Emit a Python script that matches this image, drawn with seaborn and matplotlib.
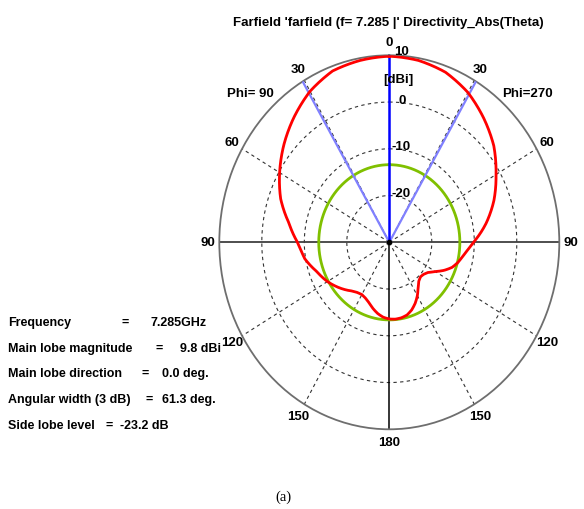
import numpy as np
import pandas as pd
import matplotlib
matplotlib.use("Agg")
import matplotlib.pyplot as plt
import seaborn as sns

# ---------------- data ----------------
theta_deg = [0, 10, 20, 30, 40, 50, 60, 70, 80, 90, 95, 100, 105, 110, 115,
             120, 125, 130, 135, 140, 145, 150, 155, 160, 165, 170, 175, 180]
# Phi = 270 (right half of the plot)
dir_phi270 = [9.8, 9.5, 8.7, 7.0, 4.6, 2.1, -1.0, -3.8, -6.9, -10.2, -11.5, -12.5,
              -13.3, -14.3, -15.8, -17.5, -18.8, -19.4, -19.6, -19.2, -18.2, -16.8,
              -15.6, -14.6, -13.9, -13.6, -13.5, -13.6]
# Phi = 90 (left half of the plot)
dir_phi90 = [9.8, 9.5, 9.0, 7.3, 4.9, 2.4, -0.2, -2.8, -6.0, -8.4, -9.2, -9.8,
             -10.8, -11.8, -12.5, -13.2, -14.0, -14.8, -15.6, -16.4, -16.9, -17.1,
             -16.8, -16.2, -15.3, -14.5, -13.9, -13.6]

frequency_ghz = 7.285
main_lobe_dbi = 9.8
main_lobe_dir = 0.0
beam_width_3db = 61.3
side_lobe_db = -23.2

r_min, r_max = -30, 10
ring_levels = [-20, -10, 0]
ring_labels = ["-20", "-10", "0", "10"]
ring_label_levels = [-20, -10, 0, 10]
angle_ticks = [0, 30, 60, 90, 120, 150, 180]
spoke_angles = [30, 60, 120, 150]

# ---------------- figure ----------------
plt.rcParams["font.family"] = ["Liberation Sans", "DejaVu Sans"]
plt.rcParams["font.weight"] = "bold"

W_PX, H_PX = 584, 510
fig = plt.figure(figsize=(W_PX / 100, H_PX / 100), dpi=100)

cx, cy, rx, ry = 389.3, 243.3, 170.0, 187.0
ax = fig.add_axes([(cx - rx) / W_PX, (H_PX - (cy + ry)) / H_PX,
                   2 * rx / W_PX, 2 * ry / H_PX], projection="polar")
ax.set_aspect("auto")
ax.set_theta_zero_location("N")
ax.set_theta_direction(-1)
ax.set_ylim(r_min, r_max)
ax.set_xticks([])
ax.set_yticks([])
ax.grid(False)
ax.spines["polar"].set_edgecolor("#6e6e6e")
ax.spines["polar"].set_linewidth(1.3)

# grid rings and spokes
full = np.linspace(0, 2 * np.pi, 361)
for lvl in ring_levels:
    ax.plot(full, np.full_like(full, lvl), color="#333333", lw=0.8,
            ls=(0, (3, 3)), zorder=1)
for a in spoke_angles:
    for s in (a, 360 - a):
        t = np.deg2rad(s)
        ax.plot([t, t], [r_min, r_max], color="#333333", lw=0.8,
                ls=(0, (3, 3)), zorder=1)
# axes lines
for s in (90, 270):
    t = np.deg2rad(s)
    ax.plot([t, t], [r_min, r_max], color="#404040", lw=1.3, zorder=2)
ax.plot([np.pi, np.pi], [r_min, r_max], color="black", lw=1.1, zorder=2)

# side lobe level circle
sll = main_lobe_dbi + side_lobe_db
df_sll = pd.DataFrame({"angle": full, "dBi": np.full_like(full, sll)})
sns.lineplot(data=df_sll, x="angle", y="dBi", sort=False, estimator=None,
             color="#80c000", lw=2.0, ax=ax, zorder=3)

# 3 dB beam width lines
for s in (beam_width_3db / 2, 360 - beam_width_3db / 2):
    t = np.deg2rad(s)
    ax.plot([t, t], [r_min, r_max], color="#8080ff", lw=1.6, zorder=4)
# main lobe direction
t0 = np.deg2rad(main_lobe_dir)
ax.plot([t0, t0], [r_min, r_max], color="#0000ff", lw=1.8, zorder=4)

# pattern
th = np.array(theta_deg, dtype=float)
ang = np.concatenate([np.deg2rad(th), np.deg2rad(360 - th[::-1])])
val = np.concatenate([np.array(dir_phi270), np.array(dir_phi90)[::-1]])
df = pd.DataFrame({"angle": ang, "dBi": val})
n_before = len(ax.lines)
sns.lineplot(data=df, x="angle", y="dBi", sort=False, estimator=None,
             color="#ff0000", lw=2.0, ax=ax, zorder=5)
# draw each segment as a smooth polar curve (spiral between samples)
for ln in ax.lines[n_before:]:
    ln.get_path()._interpolation_steps = 24
    ln.set_solid_joinstyle("round")
ax.plot([0], [r_min], "o", color="black", ms=3, zorder=6)
ax.set_xlabel("")
ax.set_ylabel("")

# angle labels
for a in angle_ticks:
    sides = [a] if a in (0, 180) else [a, 360 - a]
    for s in sides:
        ax.text(np.deg2rad(s), 12.8, str(a), ha="center", va="center",
                fontsize=9.5, fontweight="bold", clip_on=False)

# radial labels
offsets = {"-20": (2.2, 2.5), "-10": (2.2, 3.0), "0": (9.5, 2.0), "10": (5.0, 4.0)}
for lvl, lab in zip(ring_label_levels, ring_labels):
    dxp, dyp = offsets[lab]
    ax.annotate(lab, xy=(0, lvl), xytext=(dxp / 1.389, dyp / 1.389),
                textcoords="offset points", ha="left", va="center",
                fontsize=9.5, fontweight="bold", annotation_clip=False, zorder=7)


def ftxt(x, y, s, **kw):
    fig.text(x / W_PX, 1 - y / H_PX, s, **kw)


ftxt(388, 25.7, "Farfield 'farfield (f= 7.285 |' Directivity_Abs(Theta)",
     ha="center", va="baseline", fontsize=9.5, fontweight="bold")
ftxt(398.5, 80, "[dBi]", ha="center", va="center", fontsize=9.5, fontweight="bold")
ftxt(227, 96.7, "Phi= 90", ha="left", va="baseline", fontsize=9.5, fontweight="bold")
ftxt(502, 96.7, "Phi=270", ha="left", va="baseline", fontsize=9.5, fontweight="bold")

info = [
    [(8, "Frequency"), (122, "="), (150, f"{frequency_ghz}GHz")],
    [(8, "Main lobe magnitude"), (156, "="), (180, f"{main_lobe_dbi} dBi")],
    [(8, "Main lobe direction"), (141, "="), (161.5, f"{main_lobe_dir:.1f} deg.")],
    [(8, "Angular width (3 dB)"), (145, "="), (162, f"{beam_width_3db} deg.")],
    [(8, "Side lobe level"), (106, "="), (120, f"{side_lobe_db} dB")],
]
base_y = [326, 351.7, 377, 403, 429]
for row, by in zip(info, base_y):
    for x, s in row:
        ftxt(x, by, s, ha="left", va="baseline", fontsize=9.0, fontweight="bold")

ftxt(283, 497, "(a)", ha="center", va="center", fontsize=10.5,
     fontweight="normal", family=["Liberation Serif", "DejaVu Serif"])

fig.savefig("out.png", dpi=100)
